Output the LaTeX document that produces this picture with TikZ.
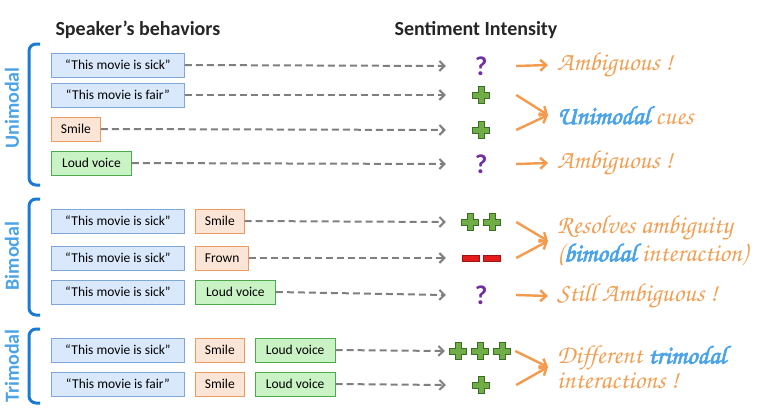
\documentclass[tikz,border=0pt]{standalone}
\usepackage[T1]{fontenc}
\usepackage{fontspec}
\setmainfont{Carlito}
\usetikzlibrary{arrows.meta, positioning}

\definecolor{spkfill}{HTML}{DAE8FC}
\definecolor{spkline}{HTML}{7FA7D9}
\definecolor{smlfill}{HTML}{FBE5D6}
\definecolor{smlline}{HTML}{EE9A5E}
\definecolor{vcefill}{HTML}{C9F2C5}
\definecolor{vceline}{HTML}{4EA84E}
\definecolor{arrgray}{HTML}{7F7F7F}
\definecolor{cueline}{HTML}{F39A4C}
\definecolor{cuetext}{HTML}{F0A055}
\definecolor{modblue}{HTML}{4BA3E8}
\definecolor{braceblue}{HTML}{1A7AD4}
\definecolor{plusfill}{HTML}{70AD47}
\definecolor{plusline}{HTML}{3B6D23}
\definecolor{qpurple}{HTML}{7030A0}
\definecolor{minusred}{HTML}{E31B1B}

\newcommand{\hand}{\fontencoding{T1}\fontfamily{pzc}\fontseries{mb}\fontshape{it}\selectfont}
% heavier strokes for the blue words
\newcommand{\fakebold}[1]{{\color{modblue}\special{pdf:literal direct 0.294 0.639 0.910 RG 2 Tr 0.7 w}#1\special{pdf:literal direct 0 Tr}}}
\newcommand{\qmark}{{\color{qpurple}\bfseries\fontsize{27}{27}\selectfont ?}}

\tikzset{
  plussign/.pic={
    \filldraw[fill=plusfill, draw=plusline, line width=0.8pt]
      (-3,-8.5) -- (3,-8.5) -- (3,-3) -- (8.5,-3) -- (8.5,3) -- (3,3) -- (3,8.5)
      -- (-3,8.5) -- (-3,3) -- (-8.5,3) -- (-8.5,-3) -- (-3,-3) -- cycle;
  },
  minusbar/.pic={
    \filldraw[fill=minusred, draw=minusred!70!black, line width=0.5pt]
      (-8.5,-3) rectangle (8.5,3);
  }
}

\begin{document}
\begin{tikzpicture}[x=1pt, y=-1pt,
  head/.style={font=\bfseries\fontsize{20}{22}\selectfont, text=black!85},
  spk/.style={draw=spkline, fill=spkfill, line width=0.9pt, minimum width=133pt,
    minimum height=24pt, font=\fontsize{13.5}{15}\selectfont},
  smile/.style={draw=smlline, fill=smlfill, line width=0.9pt, minimum height=24pt,
    inner xsep=9.5pt, font=\fontsize{13.5}{15}\selectfont},
  voice/.style={draw=vceline, fill=vcefill, line width=0.9pt, minimum height=24pt,
    minimum width=80pt, font=\fontsize{13.5}{15}\selectfont},
  slot/.style={minimum width=70pt, minimum height=20pt, inner sep=0pt},
  cue/.style={anchor=west, inner xsep=9pt, inner ysep=0pt, text=cuetext, align=left,
    font=\hand\fontsize{26}{23}\selectfont},
  dasharrow/.style={draw=arrgray, line width=2pt, dash pattern=on 7pt off 4pt,
    -{Straight Barb[length=5pt, width=10pt]}},
  cuearrow/.style={draw=cueline, line width=2.4pt, -{Straight Barb[length=6pt, width=11pt]}},
  modlabel/.style={rotate=90, text=modblue, font=\bfseries\fontsize{20}{20}\selectfont},
  brace/.style={draw=braceblue, line width=3pt, rounded corners=7pt}]
  \useasboundingbox (0,0) rectangle (767,418);

  % headings
  \node[head, anchor=west] (hspk) at (52,30) {Speaker’s behaviors};
  \node[head, anchor=west] (hsent) at (391,30) {Sentiment Intensity};

  % brackets and their labels
  \draw[brace] (40,44) -- (29,44) -- (29,185) -- (40,185);
  \draw[brace] (40,199) -- (29,199) -- (29,315) -- (40,315);
  \draw[brace] (40,329) -- (29,329) -- (29,403) -- (40,403);
  \node[modlabel] (lbluni) at (12,108) {Unimodal};
  \node[modlabel] (lblbi) at (12,256) {Bimodal};
  \node[modlabel] (lbltri) at (12,366) {Trimodal};

  % unimodal
  \node[spk, anchor=west] (u1) at (51,65) {“This movie is sick”};
  \node[spk, anchor=west] (u2) at (51,95) {“This movie is fair”};
  \node[smile, anchor=west] (u3) at (51,129) {Smile};
  \node[voice, anchor=west] (u4) at (51,163) {Loud voice};
  \node[slot] (su1) at (481,66) {\qmark};
  \node[slot] (su2) at (481,95) {}; \pic at (su2) {plussign};
  \node[slot] (su3) at (481,130) {}; \pic at (su3) {plussign};
  \node[slot] (su4) at (481,164) {\qmark};
  \draw[dasharrow] (u1.east) -- (su1.west);
  \draw[dasharrow] (u2.east) -- (su2.west);
  \draw[dasharrow] (u3.east) -- (su3.west);
  \draw[dasharrow] (u4.east) -- (su4.west);
  \node[cue] (cu1) at (548,65) {Ambiguous !};
  \node[cue] (cu2) at (548,115) {\fakebold{Unimodal} cues};
  \node[cue] (cu3) at (548,163) {Ambiguous !};
  \draw[cuearrow] (su1.east) -- (cu1.west);
  \draw[cuearrow] (su2.east) -- (cu2.west);
  \draw[cuearrow] (su3.east) -- (cu2.west);
  \draw[cuearrow] (su4.east) -- (cu3.west);

  % bimodal
  \node[spk, anchor=west] (b1) at (51,221) {“This movie is sick”};
  \node[spk, anchor=west] (b2) at (51,258) {“This movie is sick”};
  \node[spk, anchor=west] (b3) at (51,292) {“This movie is sick”};
  \node[smile, right=10pt of b1] (b1s) {Smile};
  \node[smile, right=10pt of b2] (b2s) {Frown};
  \node[voice, right=10pt of b3] (b3v) {Loud voice};
  \node[slot] (sb1) at (481,222) {};
  \pic at ([xshift=-11pt]sb1.center) {plussign};
  \pic at ([xshift=11pt]sb1.center) {plussign};
  \node[slot] (sb2) at (481,258) {};
  \pic at ([xshift=-10.5pt]sb2.center) {minusbar};
  \pic at ([xshift=10.5pt]sb2.center) {minusbar};
  \node[slot] (sb3) at (481,295) {\qmark};
  \draw[dasharrow] (b1s.east) -- (sb1.west);
  \draw[dasharrow] (b2s.east) -- (sb2.west);
  \draw[dasharrow] (b3v.east) -- (sb3.west);
  \node[cue] (cb1) at (548,241) {Resolves ambiguity\\(\fakebold{bimodal} interaction)};
  \node[cue] (cb2) at (548,296) {Still Ambiguous !};
  \draw[cuearrow] (sb1.east) -- (cb1.west);
  \draw[cuearrow] (sb2.east) -- (cb1.west);
  \draw[cuearrow] (sb3.east) -- (cb2.west);

  % trimodal
  \node[spk, anchor=west] (t1) at (51,350) {“This movie is sick”};
  \node[spk, anchor=west] (t2) at (51,384) {“This movie is fair”};
  \node[smile, right=10pt of t1] (t1s) {Smile};
  \node[smile, right=10pt of t2] (t2s) {Smile};
  \node[voice, right=10pt of t1s] (t1v) {Loud voice};
  \node[voice, right=10pt of t2s] (t2v) {Loud voice};
  \node[slot] (st1) at (480,351) {};
  \foreach \dx in {-22,0,22} \pic at ([xshift=\dx pt]st1.center) {plussign};
  \node[slot] (st2) at (481,385) {}; \pic at (st2) {plussign};
  \draw[dasharrow] (t1v.east) -- (st1.west);
  \draw[dasharrow] (t2v.east) -- (st2.west);
  \node[cue] (ct1) at (548,367) {Different \fakebold{trimodal}\\interactions !};
  \draw[cuearrow] (st1.east) -- (ct1.west);
  \draw[cuearrow] (st2.east) -- (ct1.west);
\end{tikzpicture}
\end{document}
